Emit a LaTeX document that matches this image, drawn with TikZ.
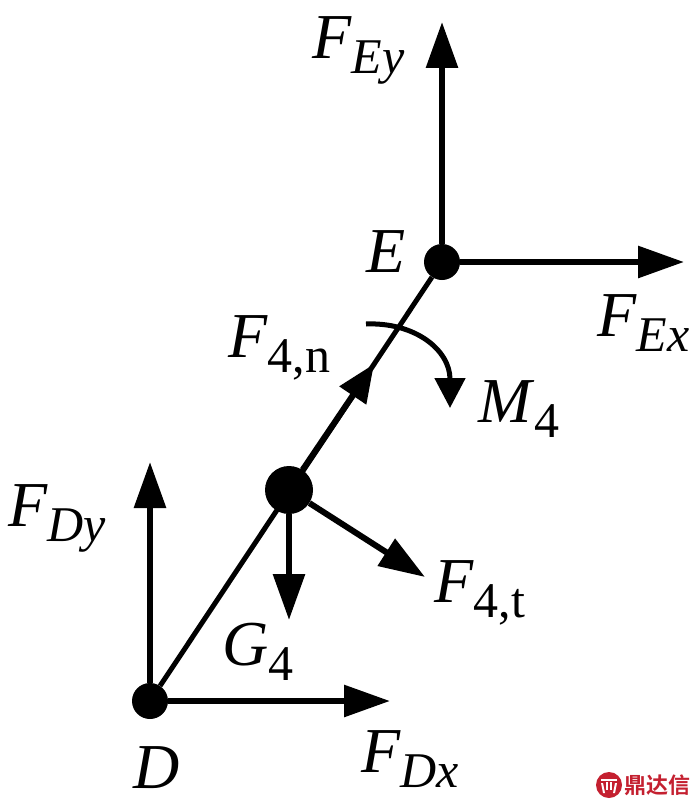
\documentclass[tikz,border=0pt]{standalone}
\usepackage{fontspec}
\setmainfont{Liberation Serif}
\newfontfamily\cjkf{Noto Sans CJK SC}[BoldFont=* Bold]
\usetikzlibrary{arrows.meta}
\definecolor{wm}{RGB}{196,32,48}
\tikzset{
 x=1pt,y=-1pt,
 force/.style={line width=6pt,-{Triangle[length=46pt,width=31pt]}},
 link/.style={line width=5pt},
 joint/.style={circle,fill=black,inner sep=0pt,minimum size=#1},
 lab/.style={anchor=base west,inner sep=0pt,font=\fontsize{64}{64}\selectfont},
}
\newcommand{\lbl}[2]{\textit{#1}\raisebox{-15pt}{\fontsize{50}{50}\selectfont #2}}
\begin{document}
\begin{tikzpicture}
\useasboundingbox (0,0) rectangle (698,808);
\node[joint=36pt] (E) at (442,262) {};
\node[joint=36pt] (D) at (150,701) {};
\node[joint=48pt] (C) at (289,490) {};
\coordinate (EyEnd) at (442,22);
\coordinate (ExEnd) at (684,262);
\coordinate (DyEnd) at (150,462);
\coordinate (DxEnd) at (390,701);
\coordinate (GEnd) at (289,620);
\coordinate (TEnd) at (425,577);
\coordinate (NEnd) at (374,364);
\coordinate (MStart) at (366,324);
\coordinate (MEnd) at (450,408);
\draw[link] (D) -- (E);
\draw[force] (E) -- (EyEnd);
\draw[force] (E) -- (ExEnd);
\draw[force] (D) -- (DyEnd);
\draw[force] (D) -- (DxEnd);
\draw[force] (C) -- (GEnd);
\draw[force] (C) -- (TEnd);
\draw[line width=6pt,-{Triangle[length=38pt,width=31pt]}] (C) -- (NEnd);
\draw[line width=5pt,-{Triangle[length=30pt,width=30pt]}] (MStart) .. controls (415,322) and (450,350) .. (MEnd);
\node[lab] (tEy) at (312,59) {\lbl{F}{\textit{Ey}}};
\node[lab] (tEx) at (597,336) {\lbl{F}{\textit{Ex}}};
\node[lab] (tE) at (366,272) {\textit{E}};
\node[lab] (tFn) at (228,357) {\lbl{F}{4,n}};
\node[lab] (tM) at (478,422) {\lbl{M}{4}};
\node[lab] (tDy) at (8,526) {\lbl{F}{\textit{Dy}}};
\node[lab] (tFt) at (434,602) {\lbl{F}{4,t}};
\node[lab] (tG) at (222,665) {\lbl{G}{4}};
\node[lab] (tD) at (133,788) {\textit{D}};
\node[lab] (tDx) at (361,772) {\lbl{F}{\textit{Dx}}};
\node[circle,fill=wm,minimum size=26pt,inner sep=0pt] (logo) at (609,785) {};
\fill[white] (601,779) rectangle (617,781);
\fill[white] (606,782) rectangle (608,790);
\fill[white] (610,782) rectangle (612,790);
\fill[white] (601,783) -- (603,783) -- (605,793) -- (603,793) -- cycle;
\fill[white] (617,783) -- (615,783) -- (613,793) -- (615,793) -- cycle;
\node[anchor=west,inner sep=0pt,text=wm,font=\cjkf\bfseries\fontsize{22}{22}\selectfont] (wmt) at (624,785) {鼎达信};
\end{tikzpicture}
\end{document}
